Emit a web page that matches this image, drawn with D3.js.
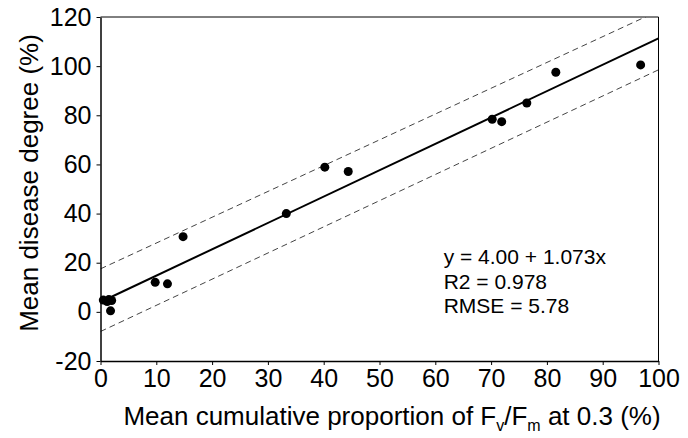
<!DOCTYPE html>
<html>
<head>
<meta charset="utf-8">
<script src="https://cdn.jsdelivr.net/npm/d3@7/dist/d3.min.js"></script>
<style>
  body { margin: 0; background: #fff; }
  svg text { font-family: "Liberation Sans", Arial, sans-serif; fill: #000; }
</style>
</head>
<body>
<div id="chart"></div>
<script>
/** Observed points: cumulative Fv/Fm proportion vs disease degree **/
var propFvFm = [0.5, 1.2, 1.5, 2.0, 1.8, 9.8, 12.0, 14.8, 33.3, 40.2, 44.4, 70.2, 71.9, 76.4, 81.6, 96.8];
var diseaseDegree = [4.8, 4.2, 5.0, 4.6, 0.4, 12.0, 11.4, 30.6, 40.0, 58.9, 57.1, 78.4, 77.4, 85.0, 97.5, 100.5];

/** Axis ticks **/
var xTicks = [0, 10, 20, 30, 40, 50, 60, 70, 80, 90, 100];
var yTicks = [-20, 0, 20, 40, 60, 80, 100, 120];

/** Regression line and the dashed band (ends) **/
var fitIntercept = 4.00;
var fitSlope = 1.073;
var fitRange = [0, 100];
var upperBand = [[0, 17.5], [100, 122.5]];
var lowerBand = [[0, -8.0], [100, 98.5]];

var statText = ["y = 4.00 + 1.073x", "R2 = 0.978", "RMSE = 5.78"];

var points = propFvFm.map(function (d, i) { return {x: d, y: diseaseDegree[i]}; });

var margin = {top: 17, right: 29.5, bottom: 77, left: 100.5},
    width = 688 - margin.left - margin.right,
    height = 438 - margin.top - margin.bottom;

var x = d3.scaleLinear().domain([0, 100]).range([0, width]);
var y = d3.scaleLinear().domain([-20, 120]).range([height, 0]);

var svg = d3.select("#chart").append("svg")
    .attr("width", 688)
    .attr("height", 438);

svg.append("defs").append("clipPath")
    .attr("id", "plotClip")
    .append("rect")
    .attr("width", width)
    .attr("height", height);

var g = svg.append("g")
    .attr("transform", "translate(" + margin.left + "," + margin.top + ")");

var line = d3.line()
    .x(function (d) { return x(d[0]); })
    .y(function (d) { return y(d[1]); });

var plot = g.append("g").attr("clip-path", "url(#plotClip)");

// dashed band
[upperBand, lowerBand].forEach(function (band) {
    plot.append("path")
        .datum(band)
        .attr("d", line)
        .attr("fill", "none")
        .attr("stroke", "#444")
        .attr("stroke-width", 1)
        .attr("stroke-dasharray", "6,4");
});

// fitted line
plot.append("path")
    .datum(fitRange.map(function (v) { return [v, fitIntercept + fitSlope * v]; }))
    .attr("d", line)
    .attr("fill", "none")
    .attr("stroke", "#000")
    .attr("stroke-width", 2);

g.selectAll(".dot")
    .data(points)
    .enter().append("circle")
    .attr("class", "dot")
    .attr("cx", function (d) { return x(d.x); })
    .attr("cy", function (d) { return y(d.y); })
    .attr("r", 4.5)
    .attr("fill", "#000");

// frame top / right
g.append("path")
    .attr("d", "M0,0H" + width + "V" + height)
    .attr("fill", "none")
    .attr("stroke", "#000")
    .attr("stroke-width", 1);

var plainFormat = function (d) { return String(d); };

var xAxis = g.append("g")
    .attr("transform", "translate(0," + height + ")")
    .call(d3.axisBottom(x).tickValues(xTicks).tickFormat(plainFormat)
        .tickSize(4).tickPadding(4).tickSizeOuter(0));

var yAxis = g.append("g")
    .call(d3.axisLeft(y).tickValues(yTicks).tickFormat(plainFormat)
        .tickSize(4).tickPadding(5).tickSizeOuter(0));

[xAxis, yAxis].forEach(function (a) {
    a.select(".domain").attr("stroke", "#000").attr("stroke-width", 1.5);
    a.selectAll(".tick line").attr("stroke", "#000");
    a.selectAll(".tick text")
        .style("font-size", "25px")
        .style("font-family", "'Liberation Sans', Arial, sans-serif")
        .attr("fill", "#000");
});

// axis titles
g.append("text")
    .attr("transform", "rotate(-90)")
    .attr("x", -(183 - margin.top))
    .attr("y", -63)
    .attr("text-anchor", "middle")
    .style("font-size", "26px")
    .text("Mean disease degree (%)");

var xt = g.append("text")
    .attr("x", 392 - margin.left)
    .attr("y", height + 64)
    .attr("text-anchor", "middle")
    .style("font-size", "26px");
xt.append("tspan").text("Mean cumulative proportion of F");
xt.append("tspan").attr("dy", 6).style("font-size", "16px").text("v");
xt.append("tspan").attr("dy", -6).text("/F");
xt.append("tspan").attr("dy", 6).style("font-size", "16px").text("m");
xt.append("tspan").attr("dy", -6).text(" at 0.3 (%)");

// statistics
g.selectAll(".stat")
    .data(statText)
    .enter().append("text")
    .attr("class", "stat")
    .attr("x", x(61.5))
    .attr("y", function (d, i) { return 247 + i * 24.5; })
    .style("font-size", "21px")
    .text(function (d) { return d; });
</script>
</body>
</html>
